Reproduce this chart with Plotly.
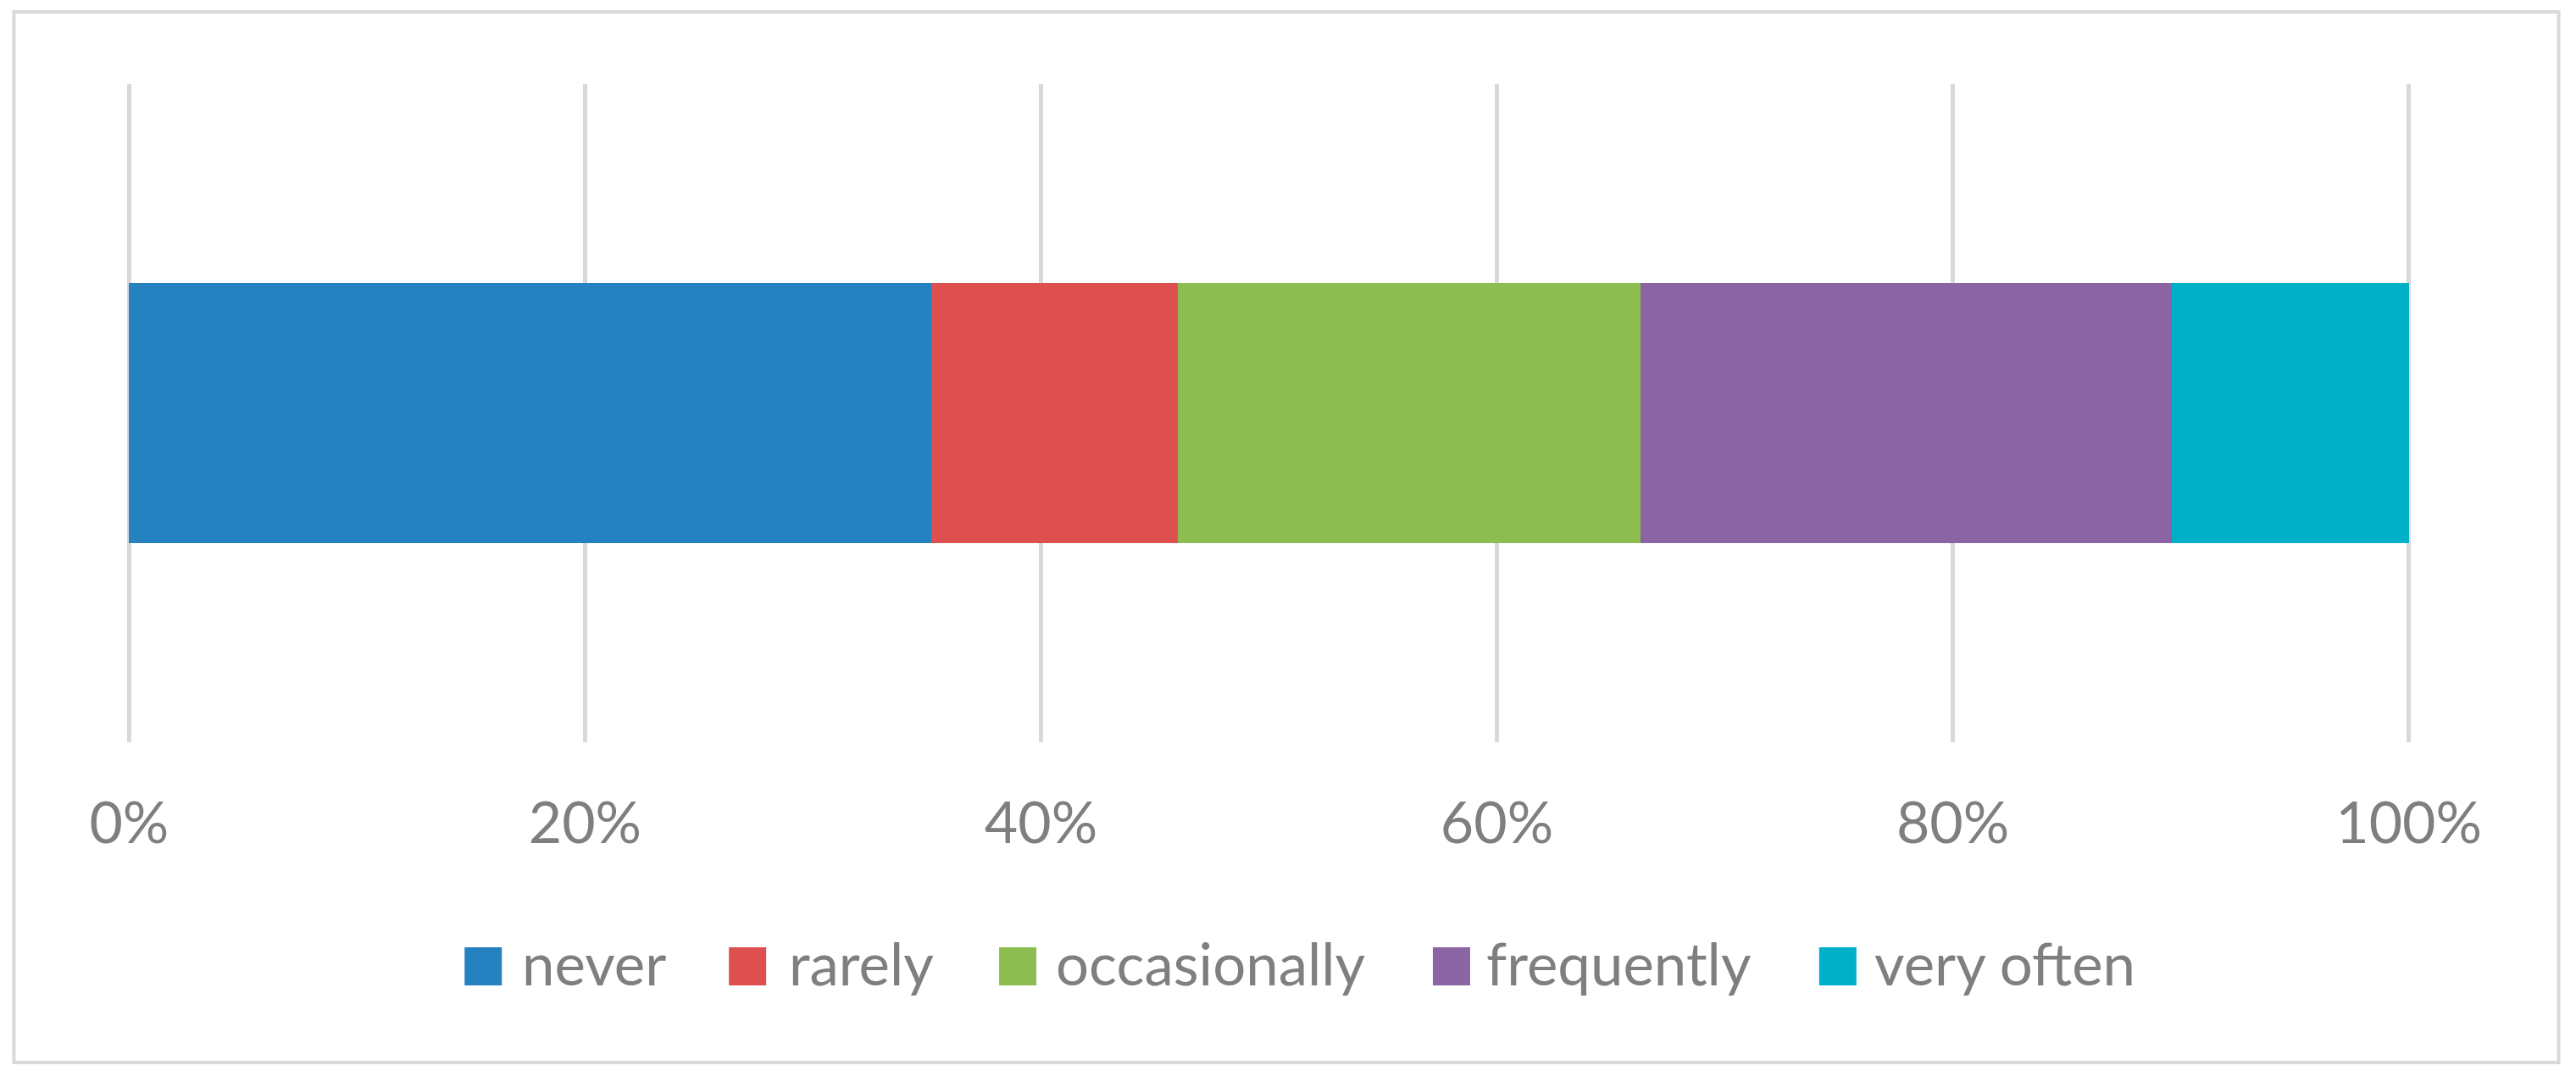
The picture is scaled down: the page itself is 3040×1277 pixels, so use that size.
import plotly.graph_objects as go

categories = ["never", "rarely", "occasionally", "frequently", "very often"]
values = [35.2, 10.8, 20.3, 23.3, 10.4]
colors = ["#2582C1", "#DE5050", "#8DBD51", "#8A64A3", "#00AFC8"]
tick_vals = [0, 20, 40, 60, 80, 100]
tick_text = ["0%", "20%", "40%", "60%", "80%", "100%"]

OFF = 8                       # browser body margin
W, H = 3040 - 2 * OFF, 1277 - 2 * OFF
X0, X100 = 152 - OFF, 2843 - OFF   # pixel positions of 0% and 100%
PAD = 0.2                     # small range extension so edge gridlines show
UNIT = (X100 - X0) / 100
L, R = X0 - PAD * UNIT, X100 + PAD * UNIT
T, B = 99 - OFF, 876 - OFF
PW, PH = R - L, B - T
FONT = "Lato"
GRAY = "#7F7F7F"


def px_x(x):
    return (x - OFF - L) / PW


def px_y(y):
    return (B - (y - OFF)) / PH


fig = go.Figure()
for name, v, c in zip(categories, values, colors):
    fig.add_trace(go.Bar(
        y=[""], x=[v], name=name, orientation="h",
        marker=dict(color=c, line=dict(width=0)),
        showlegend=False,
    ))

shapes = []
annotations = []
# outer chart border
shapes.append(dict(type="rect", xref="paper", yref="paper",
                   x0=px_x(16), x1=px_x(3020), y0=px_y(1254), y1=px_y(14),
                   line=dict(color="#D9D9D9", width=4), fillcolor="rgba(0,0,0,0)",
                   layer="below"))

# custom legend
sq_left = [548, 860, 1179, 1691, 2147]
txt_left = [616, 931, 1246, 1754, 2212]
for name, c, sx, tx in zip(categories, colors, sq_left, txt_left):
    shapes.append(dict(type="rect", xref="paper", yref="paper",
                       x0=px_x(sx), x1=px_x(sx + 44), y0=px_y(1163), y1=px_y(1118),
                       line=dict(width=0), fillcolor=c))
    annotations.append(dict(xref="paper", yref="paper", x=px_x(tx - 2), y=px_y(1136),
                            xanchor="left", yanchor="middle", showarrow=False,
                            text=name, font=dict(family=FONT, size=69, color=GRAY)))

fig.update_layout(
    width=W, height=H,
    margin=dict(l=L, r=W - R, t=T, b=H - B, pad=0),
    paper_bgcolor="white", plot_bgcolor="white",
    barmode="stack", bargap=0.605,
    shapes=shapes, annotations=annotations,
    xaxis=dict(range=[-PAD, 100 + PAD], tickvals=tick_vals, ticktext=tick_text,
               showgrid=True, gridcolor="#D9D9D9", gridwidth=5,
               zeroline=False, showline=False,
               ticks="outside", ticklen=36, tickcolor="rgba(0,0,0,0)",
               tickfont=dict(family=FONT, size=68, color=GRAY)),
    yaxis=dict(showticklabels=False, showgrid=False, zeroline=False, range=[-0.5, 0.5]),
    font=dict(family=FONT, color=GRAY),
)

fig.write_html("out.html")
